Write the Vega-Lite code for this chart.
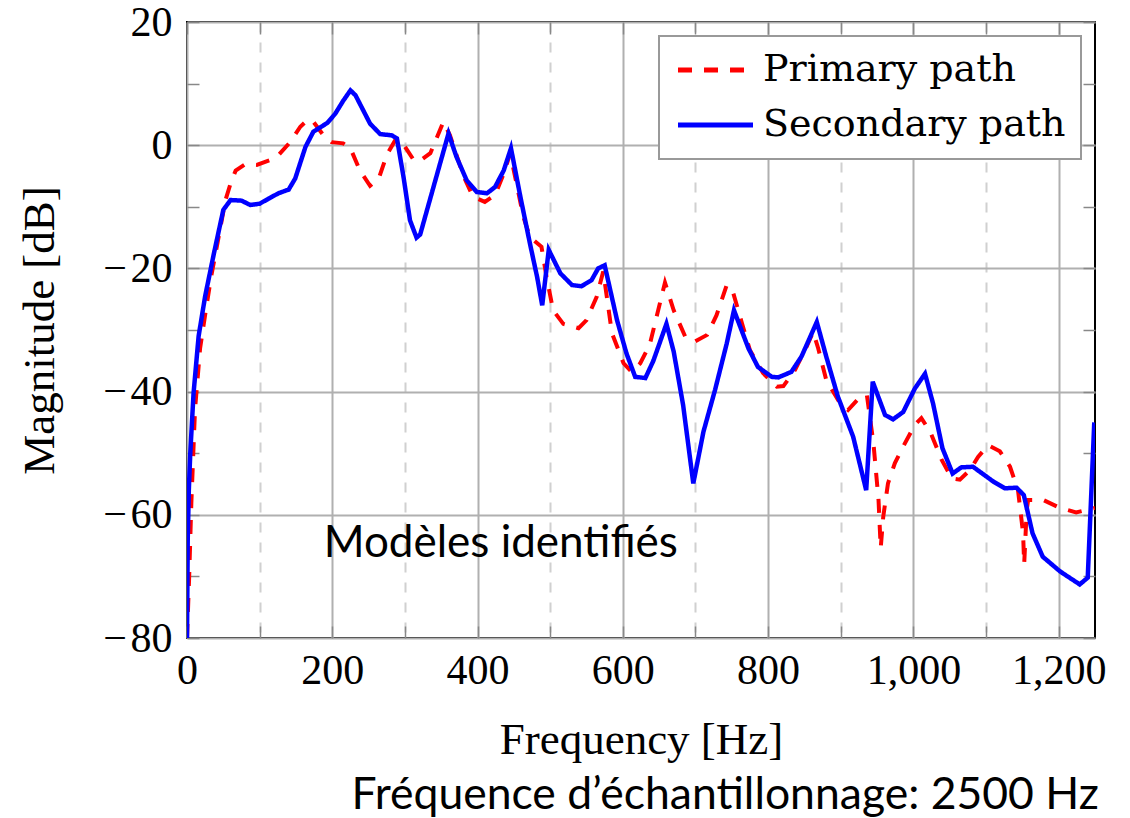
{
  "$schema": "https://vega.github.io/schema/vega-lite/v6.json",
  "width": 908,
  "height": 616,
  "autosize": {"type": "none"},
  "padding": {"left": 187, "top": 22, "right": 35, "bottom": 180},
  "background": "white",
  "config": {
    "view": {"stroke": "black", "strokeWidth": 2},
    "font": "Liberation Serif",
    "legend": {
      "orient": "none",
      "legendX": 472,
      "legendY": 14,
      "title": null,
      "symbolType": "M-1,0H4",
      "symbolSize": 900,
      "symbolStrokeWidth": 5,
      "labelFont": "DejaVu Serif",
      "labelFontSize": 38,
      "labelColor": "black",
      "labelOffset": 51,
      "rowPadding": 17,
      "padding": 15,
      "strokeColor": "#999999",
      "strokeWidth": 2,
      "fillColor": "white",
      "labelLimit": 400
    }
  },
  "title": {
    "text": "Fréquence d’échantillonnage: 2500 Hz",
    "orient": "bottom",
    "anchor": "end",
    "font": "Lato",
    "fontSize": 44.5,
    "fontWeight": "normal",
    "color": "black",
    "offset": 12,
    "dx": -7
  },
  "datasets": {
    "curves": [
      {"s": "Primary path", "f": 0, "db": -80},
      {"s": "Primary path", "f": 3, "db": -70},
      {"s": "Primary path", "f": 6, "db": -58},
      {"s": "Primary path", "f": 11, "db": -43},
      {"s": "Primary path", "f": 18, "db": -33},
      {"s": "Primary path", "f": 25, "db": -27.5},
      {"s": "Primary path", "f": 33, "db": -21.5},
      {"s": "Primary path", "f": 41, "db": -16.5},
      {"s": "Primary path", "f": 53, "db": -8.9},
      {"s": "Primary path", "f": 60, "db": -6.2},
      {"s": "Primary path", "f": 67, "db": -4.1},
      {"s": "Primary path", "f": 80, "db": -3.1},
      {"s": "Primary path", "f": 96, "db": -3.2},
      {"s": "Primary path", "f": 115, "db": -2.4},
      {"s": "Primary path", "f": 126, "db": -1.6},
      {"s": "Primary path", "f": 142, "db": 0.5},
      {"s": "Primary path", "f": 156, "db": 3.0},
      {"s": "Primary path", "f": 167, "db": 4.2},
      {"s": "Primary path", "f": 174, "db": 3.8},
      {"s": "Primary path", "f": 188, "db": 1.6},
      {"s": "Primary path", "f": 199, "db": 0.5},
      {"s": "Primary path", "f": 215, "db": 0.3},
      {"s": "Primary path", "f": 225, "db": -0.5},
      {"s": "Primary path", "f": 238, "db": -4.1},
      {"s": "Primary path", "f": 252, "db": -6.6},
      {"s": "Primary path", "f": 264, "db": -5.4},
      {"s": "Primary path", "f": 275, "db": -1.6},
      {"s": "Primary path", "f": 287, "db": 0.9},
      {"s": "Primary path", "f": 296, "db": 0.5},
      {"s": "Primary path", "f": 312, "db": -2.4},
      {"s": "Primary path", "f": 320, "db": -2.6},
      {"s": "Primary path", "f": 335, "db": -1.3},
      {"s": "Primary path", "f": 353, "db": 3.8},
      {"s": "Primary path", "f": 362, "db": 1.6},
      {"s": "Primary path", "f": 381, "db": -5.1},
      {"s": "Primary path", "f": 394, "db": -8.4},
      {"s": "Primary path", "f": 410, "db": -9.2},
      {"s": "Primary path", "f": 424, "db": -8.1},
      {"s": "Primary path", "f": 436, "db": -4.6},
      {"s": "Primary path", "f": 445, "db": -1.3},
      {"s": "Primary path", "f": 463, "db": -11.6},
      {"s": "Primary path", "f": 472, "db": -14.9},
      {"s": "Primary path", "f": 488, "db": -16.5},
      {"s": "Primary path", "f": 495, "db": -21.4},
      {"s": "Primary path", "f": 504, "db": -26.8},
      {"s": "Primary path", "f": 518, "db": -29.0},
      {"s": "Primary path", "f": 539, "db": -29.7},
      {"s": "Primary path", "f": 550, "db": -28.4},
      {"s": "Primary path", "f": 564, "db": -24.6},
      {"s": "Primary path", "f": 573, "db": -20.5},
      {"s": "Primary path", "f": 585, "db": -30.5},
      {"s": "Primary path", "f": 601, "db": -35.4},
      {"s": "Primary path", "f": 612, "db": -36.8},
      {"s": "Primary path", "f": 624, "db": -35.4},
      {"s": "Primary path", "f": 637, "db": -32.4},
      {"s": "Primary path", "f": 658, "db": -22.3},
      {"s": "Primary path", "f": 670, "db": -26.8},
      {"s": "Primary path", "f": 686, "db": -31.1},
      {"s": "Primary path", "f": 699, "db": -31.9},
      {"s": "Primary path", "f": 716, "db": -30.8},
      {"s": "Primary path", "f": 729, "db": -27.6},
      {"s": "Primary path", "f": 743, "db": -22.7},
      {"s": "Primary path", "f": 752, "db": -24.0},
      {"s": "Primary path", "f": 764, "db": -28.9},
      {"s": "Primary path", "f": 775, "db": -33.3},
      {"s": "Primary path", "f": 793, "db": -37.0},
      {"s": "Primary path", "f": 812, "db": -39.2},
      {"s": "Primary path", "f": 821, "db": -39.1},
      {"s": "Primary path", "f": 837, "db": -36.5},
      {"s": "Primary path", "f": 853, "db": -32.7},
      {"s": "Primary path", "f": 862, "db": -30.3},
      {"s": "Primary path", "f": 869, "db": -33.0},
      {"s": "Primary path", "f": 880, "db": -38.1},
      {"s": "Primary path", "f": 899, "db": -41.9},
      {"s": "Primary path", "f": 910, "db": -43.0},
      {"s": "Primary path", "f": 927, "db": -40.8},
      {"s": "Primary path", "f": 936, "db": -40.6},
      {"s": "Primary path", "f": 945, "db": -48.4},
      {"s": "Primary path", "f": 952, "db": -57.6},
      {"s": "Primary path", "f": 955, "db": -65.4},
      {"s": "Primary path", "f": 958.5, "db": -60.3},
      {"s": "Primary path", "f": 965, "db": -54.9},
      {"s": "Primary path", "f": 974.5, "db": -51.6},
      {"s": "Primary path", "f": 986, "db": -48.9},
      {"s": "Primary path", "f": 1002, "db": -45.4},
      {"s": "Primary path", "f": 1011, "db": -44.3},
      {"s": "Primary path", "f": 1023, "db": -46.5},
      {"s": "Primary path", "f": 1039, "db": -51.1},
      {"s": "Primary path", "f": 1053, "db": -54.1},
      {"s": "Primary path", "f": 1064, "db": -54.3},
      {"s": "Primary path", "f": 1078, "db": -52.7},
      {"s": "Primary path", "f": 1089, "db": -50.6},
      {"s": "Primary path", "f": 1103, "db": -48.7},
      {"s": "Primary path", "f": 1119, "db": -49.7},
      {"s": "Primary path", "f": 1133, "db": -52.2},
      {"s": "Primary path", "f": 1144, "db": -56.0},
      {"s": "Primary path", "f": 1151, "db": -63.0},
      {"s": "Primary path", "f": 1152.5, "db": -68.0},
      {"s": "Primary path", "f": 1156, "db": -59.2},
      {"s": "Primary path", "f": 1158, "db": -57.6},
      {"s": "Primary path", "f": 1179, "db": -57.6},
      {"s": "Primary path", "f": 1202, "db": -58.9},
      {"s": "Primary path", "f": 1224, "db": -59.6},
      {"s": "Primary path", "f": 1250, "db": -58.9},
      {"s": "Secondary path", "f": 0, "db": -80},
      {"s": "Secondary path", "f": 1, "db": -64},
      {"s": "Secondary path", "f": 2.5, "db": -56},
      {"s": "Secondary path", "f": 4.5, "db": -50},
      {"s": "Secondary path", "f": 9, "db": -40.3},
      {"s": "Secondary path", "f": 16, "db": -31},
      {"s": "Secondary path", "f": 25, "db": -24.5},
      {"s": "Secondary path", "f": 37, "db": -17.6},
      {"s": "Secondary path", "f": 50, "db": -10.5},
      {"s": "Secondary path", "f": 60, "db": -8.9},
      {"s": "Secondary path", "f": 75, "db": -9.0},
      {"s": "Secondary path", "f": 87, "db": -9.7},
      {"s": "Secondary path", "f": 100, "db": -9.5},
      {"s": "Secondary path", "f": 112, "db": -8.7},
      {"s": "Secondary path", "f": 126, "db": -7.8},
      {"s": "Secondary path", "f": 140, "db": -7.2},
      {"s": "Secondary path", "f": 149, "db": -5.4},
      {"s": "Secondary path", "f": 163, "db": -0.3},
      {"s": "Secondary path", "f": 174, "db": 2.2},
      {"s": "Secondary path", "f": 193, "db": 3.6},
      {"s": "Secondary path", "f": 204, "db": 5.1},
      {"s": "Secondary path", "f": 215, "db": 7.2},
      {"s": "Secondary path", "f": 225, "db": 8.9},
      {"s": "Secondary path", "f": 232, "db": 8.1},
      {"s": "Secondary path", "f": 252, "db": 3.5},
      {"s": "Secondary path", "f": 266, "db": 1.8},
      {"s": "Secondary path", "f": 282, "db": 1.6},
      {"s": "Secondary path", "f": 289, "db": 1.1},
      {"s": "Secondary path", "f": 298, "db": -5.1},
      {"s": "Secondary path", "f": 307, "db": -12.2},
      {"s": "Secondary path", "f": 316, "db": -15.0},
      {"s": "Secondary path", "f": 321, "db": -14.5},
      {"s": "Secondary path", "f": 340, "db": -6.5},
      {"s": "Secondary path", "f": 360, "db": 1.9},
      {"s": "Secondary path", "f": 371, "db": -1.9},
      {"s": "Secondary path", "f": 385, "db": -5.7},
      {"s": "Secondary path", "f": 399, "db": -7.6},
      {"s": "Secondary path", "f": 413, "db": -7.8},
      {"s": "Secondary path", "f": 424, "db": -6.8},
      {"s": "Secondary path", "f": 436, "db": -4.1},
      {"s": "Secondary path", "f": 446, "db": -0.5},
      {"s": "Secondary path", "f": 459, "db": -8.4},
      {"s": "Secondary path", "f": 472, "db": -15.9},
      {"s": "Secondary path", "f": 482, "db": -21.4},
      {"s": "Secondary path", "f": 489, "db": -26.0},
      {"s": "Secondary path", "f": 498, "db": -17.0},
      {"s": "Secondary path", "f": 514, "db": -20.8},
      {"s": "Secondary path", "f": 530, "db": -22.7},
      {"s": "Secondary path", "f": 543, "db": -22.9},
      {"s": "Secondary path", "f": 557, "db": -21.9},
      {"s": "Secondary path", "f": 566, "db": -20.0},
      {"s": "Secondary path", "f": 575, "db": -19.5},
      {"s": "Secondary path", "f": 592, "db": -28.4},
      {"s": "Secondary path", "f": 605, "db": -33.8},
      {"s": "Secondary path", "f": 617, "db": -37.6},
      {"s": "Secondary path", "f": 631, "db": -37.8},
      {"s": "Secondary path", "f": 642, "db": -35.0},
      {"s": "Secondary path", "f": 660, "db": -29.0},
      {"s": "Secondary path", "f": 670, "db": -33.5},
      {"s": "Secondary path", "f": 683, "db": -42.2},
      {"s": "Secondary path", "f": 697, "db": -54.9},
      {"s": "Secondary path", "f": 711, "db": -46.5},
      {"s": "Secondary path", "f": 727, "db": -39.7},
      {"s": "Secondary path", "f": 743, "db": -32.2},
      {"s": "Secondary path", "f": 753, "db": -26.8},
      {"s": "Secondary path", "f": 773, "db": -33.0},
      {"s": "Secondary path", "f": 786, "db": -36.0},
      {"s": "Secondary path", "f": 805, "db": -37.6},
      {"s": "Secondary path", "f": 814, "db": -37.7},
      {"s": "Secondary path", "f": 832, "db": -36.8},
      {"s": "Secondary path", "f": 846, "db": -34.3},
      {"s": "Secondary path", "f": 867, "db": -28.7},
      {"s": "Secondary path", "f": 880, "db": -34.3},
      {"s": "Secondary path", "f": 896, "db": -40.8},
      {"s": "Secondary path", "f": 917, "db": -47.3},
      {"s": "Secondary path", "f": 935, "db": -56.0},
      {"s": "Secondary path", "f": 944, "db": -38.4},
      {"s": "Secondary path", "f": 961, "db": -43.8},
      {"s": "Secondary path", "f": 972, "db": -44.5},
      {"s": "Secondary path", "f": 986, "db": -43.3},
      {"s": "Secondary path", "f": 1002, "db": -39.5},
      {"s": "Secondary path", "f": 1016, "db": -37.1},
      {"s": "Secondary path", "f": 1027, "db": -41.9},
      {"s": "Secondary path", "f": 1040, "db": -49.2},
      {"s": "Secondary path", "f": 1054, "db": -53.3},
      {"s": "Secondary path", "f": 1066, "db": -52.3},
      {"s": "Secondary path", "f": 1082, "db": -52.2},
      {"s": "Secondary path", "f": 1110, "db": -54.6},
      {"s": "Secondary path", "f": 1126, "db": -55.7},
      {"s": "Secondary path", "f": 1142, "db": -55.6},
      {"s": "Secondary path", "f": 1152, "db": -56.8},
      {"s": "Secondary path", "f": 1164, "db": -63.0},
      {"s": "Secondary path", "f": 1178, "db": -66.8},
      {"s": "Secondary path", "f": 1202, "db": -69.2},
      {"s": "Secondary path", "f": 1229, "db": -71.3},
      {"s": "Secondary path", "f": 1240, "db": -70.2},
      {"s": "Secondary path", "f": 1249, "db": -45.0}
    ]
  },
  "layer": [
    {
      "data": {"name": "curves"},
      "transform": [{"filter": "datum.s === 'Primary path'"}],
      "mark": {"type": "line", "strokeWidth": 4, "clip": true},
      "encoding": {
        "x": {
          "field": "f", "type": "quantitative",
          "scale": {"domain": [0, 1250], "nice": false, "zero": false},
          "axis": {
            "orient": "bottom",
            "values": [0, 100, 200, 300, 400, 500, 600, 700, 800, 900, 1000, 1100, 1200],
            "labelExpr": "datum.value % 200 === 0 ? format(datum.value, ',') : ''",
            "labelFont": "Liberation Serif", "labelFontSize": 42, "labelColor": "black",
            "labelFlush": false, "labelPadding": 24, "labelOverlap": false,
            "tickSize": -12, "tickColor": "#888888", "tickWidth": 1.5,
            "domain": false,
            "grid": true,
            "gridColor": {"condition": {"test": "datum.value % 200 !== 0", "value": "#d0d0d0"}, "value": "#b0b0b0"},
            "gridDash": {"condition": {"test": "datum.value % 200 !== 0", "value": [10, 10]}, "value": []},
            "gridWidth": 2,
            "title": "Frequency [Hz]",
            "titleFont": "Liberation Serif", "titleFontSize": 45, "titleFontWeight": "normal", "titleColor": "black",
            "titlePadding": 26
          }
        },
        "y": {
          "field": "db", "type": "quantitative",
          "scale": {"domain": [-80, 20], "nice": false, "zero": false},
          "axis": {
            "orient": "left",
            "values": [-80, -70, -60, -50, -40, -30, -20, -10, 0, 10, 20],
            "labelExpr": "datum.value % 20 !== 0 ? '' : (datum.value < 0 ? '\u2212\u200a' + format(-datum.value, 'd') : format(datum.value, 'd'))",
            "labelFont": "Liberation Serif", "labelFontSize": 42, "labelColor": "black",
            "labelFlush": false, "labelPadding": 27, "labelOverlap": false,
            "tickSize": -12, "tickColor": "#888888", "tickWidth": 1.5,
            "domain": false,
            "grid": true,
            "gridOpacity": {"condition": {"test": "datum.value % 20 !== 0", "value": 0}, "value": 1},
            "gridColor": "#b0b0b0",
            "gridWidth": 2,
            "title": "Magnitude [dB]",
            "titleFont": "Liberation Serif", "titleFontSize": 45, "titleFontWeight": "normal", "titleColor": "black",
            "titlePadding": 40
          }
        },
        "color": {
          "field": "s", "type": "nominal",
          "scale": {"domain": ["Primary path", "Secondary path"], "range": ["#ff0000", "#0000ff"]},
          "legend": {"orient": "none", "legendX": 472, "legendY": 14, "title": null}
        },
        "strokeDash": {
          "field": "s", "type": "nominal",
          "scale": {"domain": ["Primary path", "Secondary path"], "range": [[14, 12], [1, 0]]},
          "legend": {"orient": "none", "legendX": 472, "legendY": 14, "title": null}
        }
      }
    },
    {
      "data": {"name": "curves"},
      "transform": [{"filter": "datum.s === 'Secondary path'"}],
      "mark": {"type": "line", "strokeWidth": 4.5, "clip": true},
      "encoding": {
        "x": {
          "field": "f", "type": "quantitative",
          "axis": {
            "orient": "top",
            "values": [0, 100, 200, 300, 400, 500, 600, 700, 800, 900, 1000, 1100, 1200],
            "labels": false, "domain": false, "grid": false,
            "tickSize": -12, "tickColor": "#888888", "tickWidth": 1.5,
            "title": null
          }
        },
        "y": {
          "field": "db", "type": "quantitative",
          "axis": {
            "orient": "right",
            "values": [-80, -70, -60, -50, -40, -30, -20, -10, 0, 10, 20],
            "labels": false, "domain": false, "grid": false,
            "tickSize": -12, "tickColor": "#888888", "tickWidth": 1.5,
            "title": null
          }
        },
        "color": {"field": "s", "type": "nominal", "legend": null},
        "strokeDash": {"field": "s", "type": "nominal", "legend": null}
      }
    },
    {
      "data": {"values": [{"label": "Modèles identifiés"}]},
      "mark": {"type": "text", "font": "Lato", "fontSize": 44, "align": "center", "baseline": "alphabetic", "color": "black"},
      "encoding": {
        "x": {"datum": 432, "type": "quantitative", "axis": null},
        "y": {"datum": -66.8, "type": "quantitative", "axis": null},
        "text": {"field": "label"}
      }
    }
  ],
  "resolve": {"axis": {"x": "independent", "y": "independent"}}
}
